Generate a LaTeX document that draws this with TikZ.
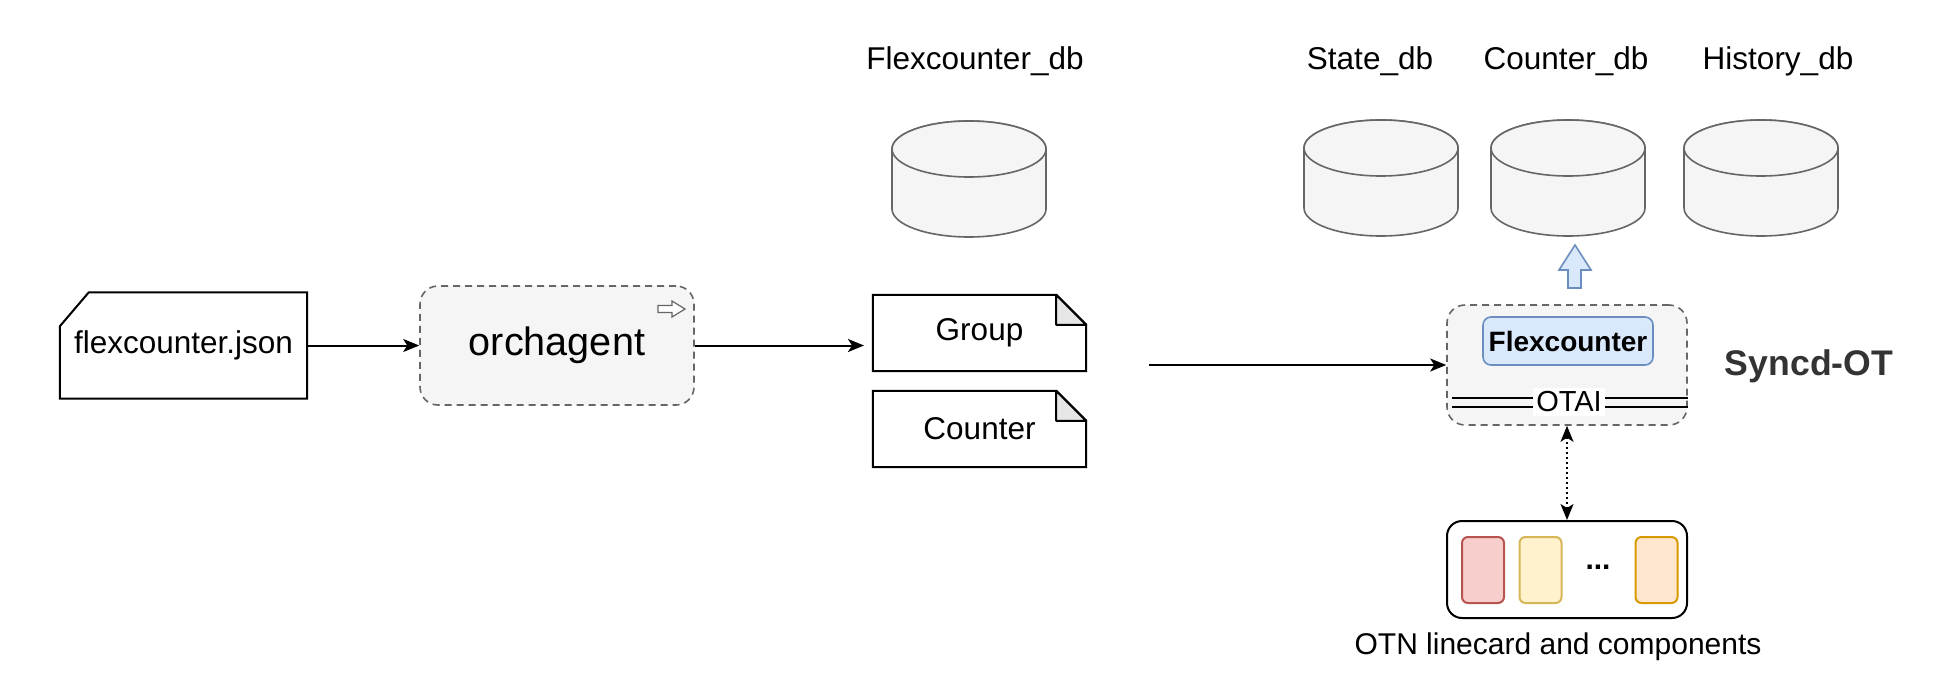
\documentclass[tikz,border=0pt]{standalone}
\usepackage{fontspec}
\setmainfont{Liberation Sans}
\usetikzlibrary{arrows.meta}
\definecolor{boxfill}{HTML}{F5F5F5}
\definecolor{boxline}{HTML}{666666}
\definecolor{bluefill}{HTML}{DAE8FC}
\definecolor{blueline}{HTML}{6C8EBF}
\definecolor{redfill}{HTML}{F8CECC}
\definecolor{redline}{HTML}{B85450}
\definecolor{yelfill}{HTML}{FFF2CC}
\definecolor{yelline}{HTML}{D6B656}
\definecolor{orafill}{HTML}{FFE6CC}
\definecolor{oraline}{HTML}{D79B00}
\definecolor{darktext}{HTML}{333333}
\definecolor{foldfill}{HTML}{E6E6E6}
\begin{document}
\begin{tikzpicture}[x=1pt,y=-1pt,
  >={Stealth[length=16pt,width=13pt,inset=4pt]},
  every node/.style={font=\fontsize{31.5}{36}\selectfont, inner sep=0pt},
  conn/.style={line width=2pt, ->},
  dashbox/.style={draw=boxline, fill=boxfill, line width=1.6pt, dash pattern=on 7pt off 5pt, rounded corners=18pt},
  notebox/.style={minimum width=213pt, minimum height=76pt},
  dbline/.style={draw=boxline, fill=boxfill, line width=1.6pt},
  card/.style={minimum width=42pt, minimum height=66pt, rounded corners=6pt, line width=2pt},
  dbcyl/.pic={
    \path[dbline] (-77,28) -- (-77,88) arc[start angle=180,end angle=0,x radius=77,y radius=28]
      -- (77,28) arc[start angle=0,end angle=-180,x radius=77,y radius=28] -- cycle;
    \draw[dbline] (0,28) ellipse[x radius=77,y radius=28];
  }
]
\useasboundingbox[fill=white] (0,0) rectangle (1958,694);

% databases
\node (fdblabel) at (975,61) {Flexcounter\_db};
\pic at (969,121) {dbcyl};
\node (sdblabel) at (1370,61) {State\_db};
\pic at (1381,120) {dbcyl};
\node (cdblabel) at (1566,61) {Counter\_db};
\pic at (1568,120) {dbcyl};
\node (hdblabel) at (1778,61) {History\_db};
\pic at (1761,120) {dbcyl};

% flexcounter.json card
\node[minimum width=247pt, minimum height=106pt] (json) at (183.5,345.5) {};
\draw[line width=2pt, fill=white] ([xshift=29pt]json.north west) -- (json.north east) -- (json.south east)
  -- (json.south west) -- ([yshift=-34pt]json.north west) -- cycle;
\node at (json.center) {flexcounter.json};

% orchagent
\node[dashbox, minimum width=274pt, minimum height=119pt, font=\fontsize{39.6}{44}\selectfont] (orch) at (557,345.5) {orchagent};
\draw[boxline, line width=1.2pt, fill=white] (658,305.5) -- (672,305.5) -- (672,301) -- (685,309)
  -- (672,317) -- (672,312.5) -- (658,312.5) -- cycle;

% notes
\node[notebox] (group) at (979.5,333) {};
\node[notebox] (counter) at (979.5,429) {};
\foreach \n in {group,counter}{
  \draw[line width=2pt, fill=white] (\n.north west) -- ([xshift=-30pt]\n.north east) -- ([yshift=-30pt]\n.north east)
    -- (\n.south east) -- (\n.south west) -- cycle;
  \draw[line width=2pt, fill=foldfill, line join=round] ([xshift=-30pt]\n.north east) -- ([xshift=-30pt,yshift=-30pt]\n.north east)
    -- ([yshift=-30pt]\n.north east) -- cycle;
}
\node at (group.center) {Group};
\node at (counter.center) {Counter};

% Syncd-OT
\node[dashbox, minimum width=240pt, minimum height=120pt] (syncd) at (1567,365) {};
\node[draw=blueline, fill=bluefill, line width=1.6pt, rounded corners=8pt, minimum width=170pt, minimum height=48pt,
  font=\fontsize{28}{32}\selectfont\bfseries] (flexc) at (1568,341) {Flexcounter};
\draw[line width=1.8pt] (1452,398) -- (1688,398);
\draw[line width=1.8pt] (1452,407) -- (1688,407);
\node[fill=white, inner xsep=3pt, inner ysep=4pt, font=\fontsize{29}{33}\selectfont] (otai) at (1569,402) {OTAI};
\node[font=\fontsize{35.6}{40}\selectfont\bfseries, text=darktext] (syncdlabel) at (1809,366) {Syncd-OT};

% up arrow
\draw[fill=bluefill, draw=blueline, line width=1.6pt] (1568,288) -- (1568,270) -- (1559,270) -- (1575,245)
  -- (1591,270) -- (1581,270) -- (1581,288) -- cycle;

% linecard
\node[draw, line width=2pt, rounded corners=15pt, minimum width=240pt, minimum height=97pt] (lc) at (1567,569.5) {};
\node[card, draw=redline, fill=redfill] (c1) at (1483,570) {};
\node[card, draw=yelline, fill=yelfill] (c2) at (1540.5,570) {};
\node[card, draw=oraline, fill=orafill] (c3) at (1656.5,570) {};
\node[font=\fontsize{30}{34}\selectfont\bfseries] (dots) at (1598,567) {...};
\node[font=\fontsize{30}{34}\selectfont] (lclabel) at (1558,647) {OTN linecard and components};

% connectors
\coordinate (a2end) at (864,345.5);
\coordinate (a3start) at (1149,365);
\draw[conn] (json.east) -- (orch.west);
\draw[conn] (orch.east) -- (a2end);
\draw[conn] (a3start) -- (syncd.west);
\draw[line width=1.8pt, dash pattern=on 2pt off 3pt, <->] (syncd.south) -- (lc.north);
\end{tikzpicture}
\end{document}
